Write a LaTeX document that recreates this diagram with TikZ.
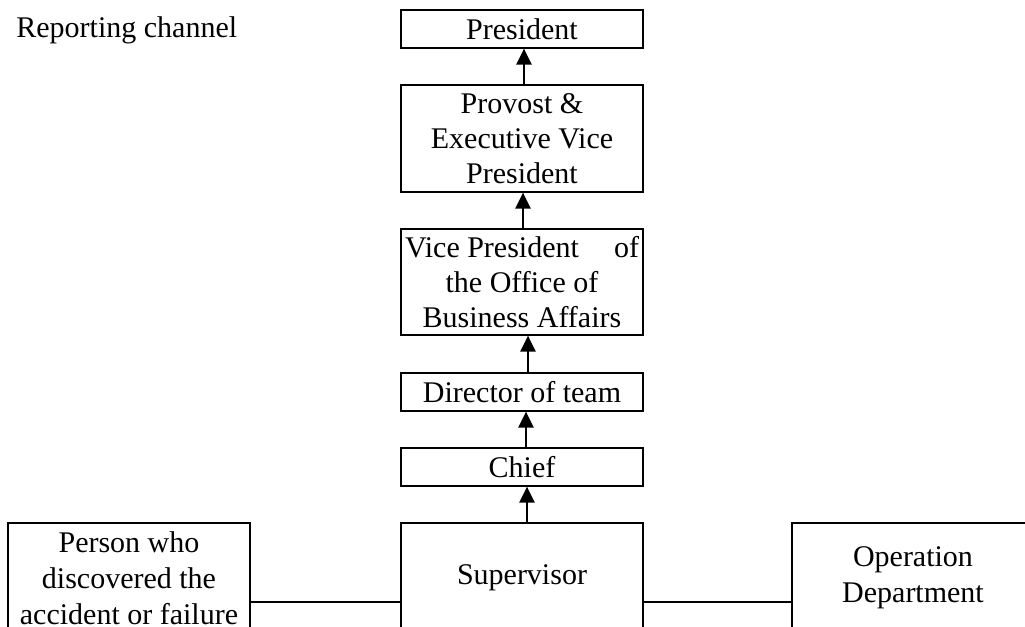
\documentclass[tikz,border=0pt]{standalone}
\usepackage{fontspec}
\setmainfont{Liberation Serif}
\usetikzlibrary{arrows.meta}
\begin{document}
\begin{tikzpicture}[x=0.5pt,y=-0.5pt,
  box/.style={draw, line width=0.6pt, minimum width=121pt, inner sep=0pt, align=center,
    font=\fontsize{15}{17.5}\selectfont},
  lowbox/.style={box, minimum height=55pt, font=\fontsize{15}{18}\selectfont},
  uparrow/.style={line width=1.3pt, -{Triangle[width=7.5pt,length=8pt]}},
  link/.style={line width=0.9pt}]
\useasboundingbox (0,0) rectangle (1025,627);
\clip (0,0) rectangle (1025,627);
\node[anchor=base west, inner sep=0pt, font=\fontsize{15}{17.5}\selectfont] (title) at (16,37) {Reporting channel};
\node[box, minimum height=19pt] (pres) at (522,29) {President};
\node[box, minimum height=53.5pt] (prov) at (522,138.5) {Provost \&\\ Executive Vice\\ President};
\node[box, minimum height=53pt] (vp) at (522,282) {\makebox[117pt]{Vice President\hfill of}\\ the Office of\\ Business Affairs};
\node[box, minimum height=19pt] (dir) at (522,392) {Director of team};
\node[box, minimum height=19pt] (chief) at (522,467) {Chief};
\node[lowbox] (sup) at (522,578) {Supervisor};
\node[lowbox] (person) at (129,578) {Person who\\ discovered the\\ accident or failure};
\node[lowbox] (oper) at (913,578) {Operation\\ Department};
\draw[uparrow] ([xshift=1pt]prov.north) -- ([xshift=1pt]pres.south);
\draw[uparrow] ([xshift=0.5pt]vp.north) -- ([xshift=0.5pt]prov.south);
\draw[uparrow] ([xshift=3pt]dir.north) -- ([xshift=3pt]vp.south);
\draw[uparrow] ([xshift=2pt]chief.north) -- ([xshift=2pt]dir.south);
\draw[uparrow] ([xshift=2.5pt]sup.north) -- ([xshift=2.5pt]chief.south);
\draw[link] ([yshift=-12pt]person.east) -- ([yshift=-12pt]sup.west);
\draw[link] ([yshift=-12pt]sup.east) -- ([yshift=-12pt]oper.west);
\end{tikzpicture}
\end{document}
